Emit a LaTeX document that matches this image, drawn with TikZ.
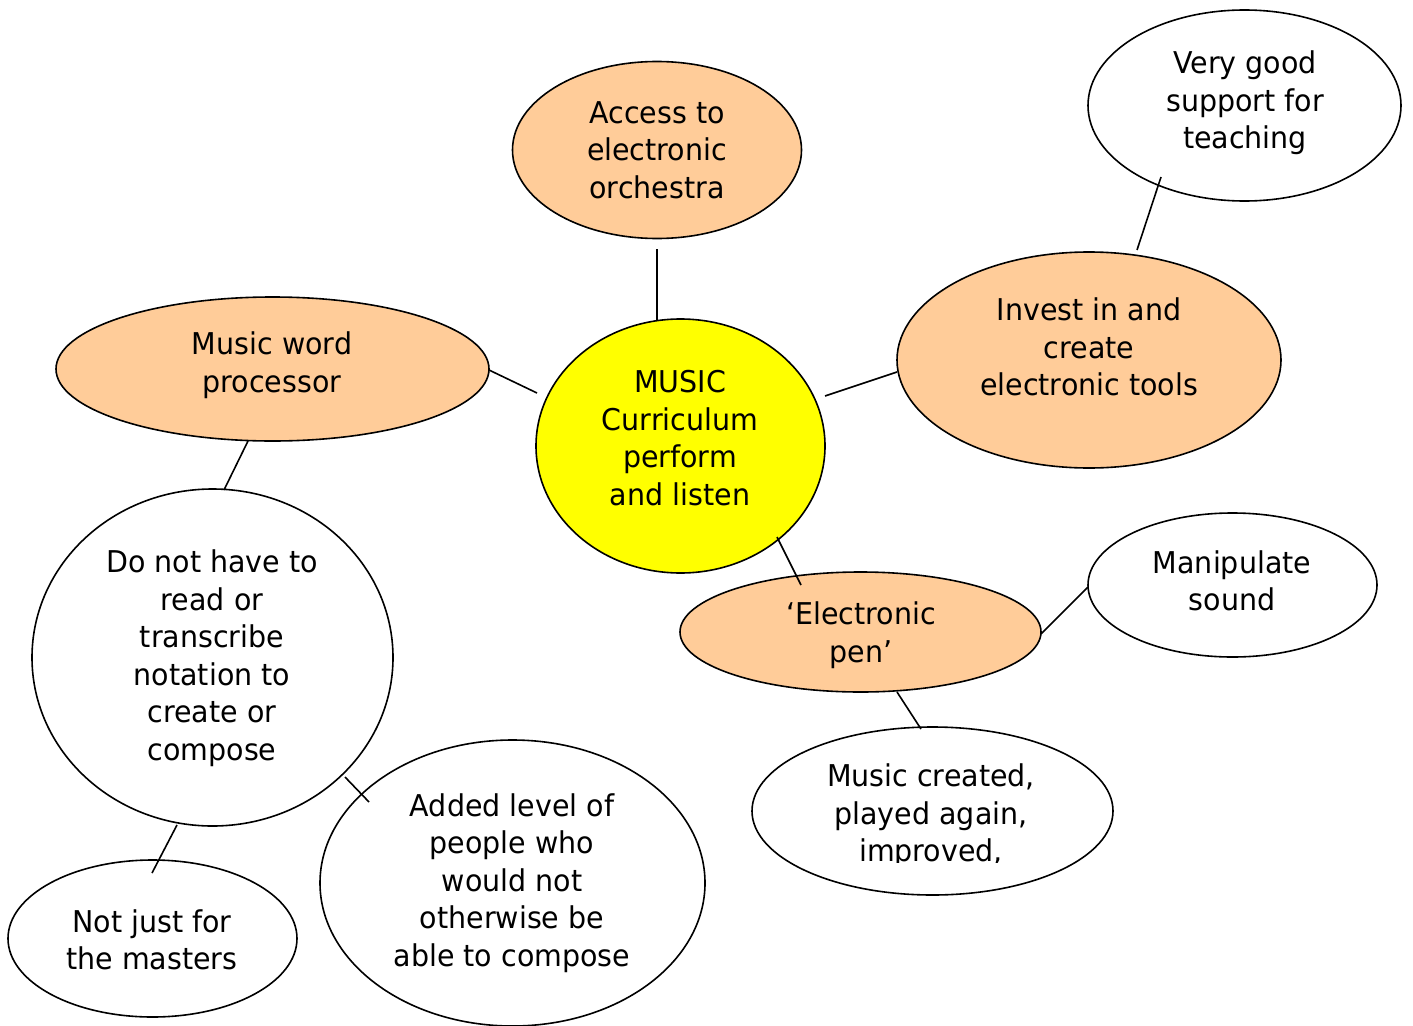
\documentclass[tikz,border=0pt]{standalone}
\usepackage{fontspec}
\setmainfont{DejaVu Sans}[FakeStretch=0.95]
\usetikzlibrary{shapes.geometric}
\definecolor{peach}{HTML}{FFCC99}
\definecolor{yell}{HTML}{FFFF00}
\begin{document}
\begin{tikzpicture}[x=1pt,y=-1pt,
  ell/.style={ellipse, draw=black, line width=1.6pt, inner sep=0pt},
  txt/.style={align=center, font=\fontsize{30}{37.5}\selectfont, inner sep=0pt},
  link/.style={line width=1.6pt}]
\useasboundingbox (0,0) rectangle (1413,1025);
\fill[white] (0,0) rectangle (1413,1025);

% ellipses
\node[ell, fill=peach, minimum width=289pt, minimum height=177pt] (access) at (657,150) {};
\node[ell, fill=white, minimum width=313pt, minimum height=191pt] (verygood) at (1244.5,105.5) {};
\node[ell, fill=peach, minimum width=433pt, minimum height=144pt] (wordproc) at (272.5,369) {};
\node[ell, fill=yell, minimum width=289pt, minimum height=254pt] (music) at (680.5,446) {};
\node[ell, fill=peach, minimum width=384pt, minimum height=216pt] (invest) at (1089,360) {};
\node[ell, fill=white, minimum width=289pt, minimum height=144pt] (manip) at (1232.5,585) {};
\node[ell, fill=peach, minimum width=361pt, minimum height=120pt] (pen) at (860.5,632) {};
\node[ell, fill=white, minimum width=361pt, minimum height=168pt] (created) at (932.5,811) {};
\node[ell, fill=white, minimum width=361pt, minimum height=337pt] (donot) at (212.5,657.5) {};
\node[ell, fill=white, minimum width=385pt, minimum height=286pt] (added) at (512.5,883) {};
\node[ell, fill=white, minimum width=289pt, minimum height=157pt] (notjust) at (152.5,938.5) {};

% connector end points
\coordinate (a1) at (657,249);   \coordinate (a2) at (657,320);
\coordinate (w1) at (489,370);   \coordinate (w2) at (537,393);
\coordinate (i1) at (825,396);   \coordinate (i2) at (897,372);
\coordinate (v1) at (1161,177);  \coordinate (v2) at (1137,250);
\coordinate (m1) at (777,537);   \coordinate (m2) at (801,585);
\coordinate (p1) at (1041,634);  \coordinate (p2) at (1088,587);
\coordinate (p3) at (897,692);   \coordinate (p4) at (921,729);
\coordinate (d1) at (248,441);   \coordinate (d2) at (224,490);
\coordinate (d3) at (177,825);   \coordinate (d4) at (152,873);
\coordinate (d5) at (345,777);   \coordinate (d6) at (369,802);

\draw[link] (a1) -- (a2);
\draw[link] (w1) -- (w2);
\draw[link] (i1) -- (i2);
\draw[link] (v1) -- (v2);
\draw[link] (m1) -- (m2);
\draw[link] (p1) -- (p2);
\draw[link] (p3) -- (p4);
\draw[link] (d1) -- (d2);
\draw[link] (d3) -- (d4);
\draw[link] (d5) -- (d6);

% texts
\node[txt] (taccess) at (657,150) {Access to\\electronic\\orchestra};
\node[txt] (tverygood) at (1245,103) {Very good\\support for\\teaching};
\node[txt] (twordproc) at (272,365) {Music word\\processor};
\node[txt] (tmusic) at (680,438) {MUSIC\\Curriculum\\perform\\and listen};
\node[txt] (tinvest) at (1089,347) {Invest in and\\create\\electronic tools};
\node[txt] (tmanip) at (1232,581) {Manipulate\\sound};
\node[txt] (tpen) at (861,635) {`Electronic\\pen'};
\begin{scope}
  \clip (752,740) rectangle (1113,862);
  \node[txt] (tcreated) at (931,816) {Music created,\\played again,\\improved,};
\end{scope}
\node[txt] (tdonot) at (212,658) {Do not have to\\read or\\transcribe\\notation to\\create or\\compose};
\node[txt] (tadded) at (512,883) {Added level of\\people who\\would not\\otherwise be\\able to compose};
\node[txt] (tnotjust) at (152,940) {Not just for\\the masters};
\end{tikzpicture}
\end{document}
